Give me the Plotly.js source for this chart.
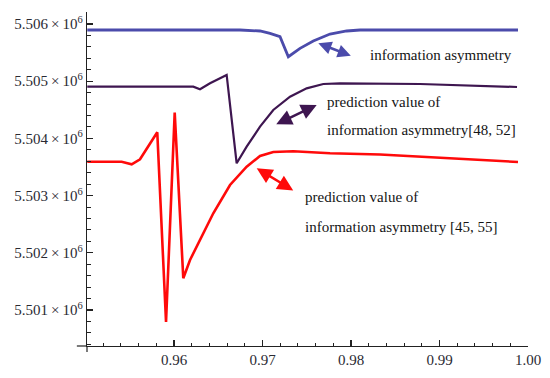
<!DOCTYPE html>
<html>
<head>
<meta charset="utf-8">
<script src="https://cdn.plot.ly/plotly-3.0.1.min.js"></script>
<style>html,body{margin:0;padding:0;background:#fff;}#chart{width:550px;height:378px;}</style>
</head>
<body>
<div id="chart"></div>
<script>
// information asymmetry (blue)
const blueX = [0.9502, 0.96746, 0.96972, 0.97085, 0.97198, 0.97292, 0.97424, 0.97574, 0.97763, 0.97951, 0.98102, 0.99887];
const blueY = [5505895, 5505895, 5505878, 5505837, 5505778, 5505428, 5505575, 5505703, 5505825, 5505878, 5505895, 5505895];
// prediction value [48, 52] (dark purple)
const purpleX = [0.9502, 0.96218, 0.96294, 0.96407, 0.96595, 0.96708, 0.96821, 0.96972, 0.97122, 0.97311, 0.97499, 0.97687, 0.97876, 0.98780, 0.99876];
const purpleY = [5504904, 5504904, 5504859, 5504963, 5505109, 5503565, 5503855, 5504205, 5504497, 5504729, 5504876, 5504951, 5504963, 5504951, 5504899];
// prediction value [45, 55] (red)
const redX = [0.9502, 0.95409, 0.95522, 0.95616, 0.95811, 0.95910, 0.96008, 0.96105, 0.96181, 0.96294, 0.96444, 0.96633, 0.96821, 0.96972, 0.97122, 0.97348, 0.97763, 0.98328, 0.99119, 0.99887];
const redY = [5503593, 5503593, 5503548, 5503635, 5504107, 5500791, 5504450, 5501555, 5501875, 5502224, 5502691, 5503186, 5503506, 5503693, 5503763, 5503775, 5503740, 5503719, 5503658, 5503588];

const yTickVals = [5501000, 5502000, 5503000, 5504000, 5505000, 5506000];
const yTickText = ['5.501\u2009×\u200910<sup>6</sup>', '5.502\u2009×\u200910<sup>6</sup>', '5.503\u2009×\u200910<sup>6</sup>', '5.504\u2009×\u200910<sup>6</sup>', '5.505\u2009×\u200910<sup>6</sup>', '5.506\u2009×\u200910<sup>6</sup>'];

const labelBlue = 'information asymmetry';
const labelPurple = ['prediction value of', 'information asymmetry[48, 52]'];
const labelRed = ['prediction value of', 'information asymmetry [45, 55]'];

const cBlue = '#4b4bab', cPurple = '#3e1650', cRed = '#ff0a0a';
const serif = 'Liberation Serif, Times New Roman, serif';

const traces = [
  {x: blueX, y: blueY, mode: 'lines', line: {color: cBlue, width: 2.8}, name: labelBlue},
  {x: purpleX, y: purpleY, mode: 'lines', line: {color: cPurple, width: 2.2}, name: labelPurple.join(' ')},
  {x: redX, y: redY, mode: 'lines', line: {color: cRed, width: 2.6}, name: labelRed.join(' ')}
];

function arrow(x, y, ax, ay, color, size) {
  return {xref: 'paper', yref: 'paper', x: x, y: y, ax: ax, ay: ay, text: '', showarrow: true,
    arrowhead: 2, startarrowhead: 2, arrowside: 'end+start', arrowsize: size, startarrowsize: size,
    arrowwidth: 2.5, arrowcolor: color, standoff: 0, startstandoff: 0};
}
function label(x, y, text) {
  return {xref: 'paper', yref: 'paper', x: x, y: y, xanchor: 'left', yanchor: 'middle', text: text,
    showarrow: false, font: {family: serif, size: 15, color: '#141414'}};
}

const layout = {
  width: 550, height: 378,
  margin: {l: 87, r: 22, t: 12, b: 32},
  paper_bgcolor: '#fff', plot_bgcolor: '#fff',
  showlegend: false,
  xaxis: {
    range: [0.95017, 1.0], showgrid: false, zeroline: false, showline: true,
    linecolor: '#222', linewidth: 1.2, ticks: 'inside', ticklen: 6, tickwidth: 1.1, tickcolor: '#222',
    tickmode: 'linear', tick0: 0.96, dtick: 0.01, tickformat: '.2f',
    tickfont: {family: serif, size: 15, color: '#2a2a33'},
    minor: {tickmode: 'linear', tick0: 0.96, dtick: 0.002, ticks: 'inside', ticklen: 3.5, tickwidth: 1, tickcolor: '#222', showgrid: false}
  },
  yaxis: {
    range: [5500371, 5506210], showgrid: false, zeroline: false, showline: true,
    linecolor: '#222', linewidth: 1.2, ticks: 'inside', ticklen: 6, tickwidth: 1.1, tickcolor: '#222',
    tickmode: 'array', tickvals: yTickVals, ticktext: yTickText,
    tickfont: {family: serif, size: 15, color: '#2a2a33'},
    minor: {tickmode: 'linear', tick0: 5500000, dtick: 200, ticks: 'inside', ticklen: 3.5, tickwidth: 1, tickcolor: '#222', showgrid: false}
  },
  shapes: [
    {type: 'line', xref: 'paper', yref: 'paper', x0: -0.023, x1: 0, y0: 0, y1: 0, line: {color: '#222', width: 1.2}},
    {type: 'line', xref: 'paper', yref: 'paper', x0: 0, x1: 0, y0: -0.018, y1: 0, line: {color: '#222', width: 1.2}}
  ],
  annotations: [
    arrow(0.5245, 0.9063, 34, 13, cBlue, 1.05),
    arrow(0.5209, 0.7216, -42, 20, cPurple, 1.25),
    arrow(0.3848, 0.532, 38, 23, cRed, 1.25),
    label(0.6379, 0.8713, labelBlue),
    label(0.5397, 0.7314, labelPurple[0]),
    label(0.5397, 0.6467, labelPurple[1]),
    label(0.4905, 0.447, labelRed[0]),
    label(0.4905, 0.3572, labelRed[1])
  ]
};

Plotly.newPlot('chart', traces, layout, {displayModeBar: false, staticPlot: true});
</script>
</body>
</html>
